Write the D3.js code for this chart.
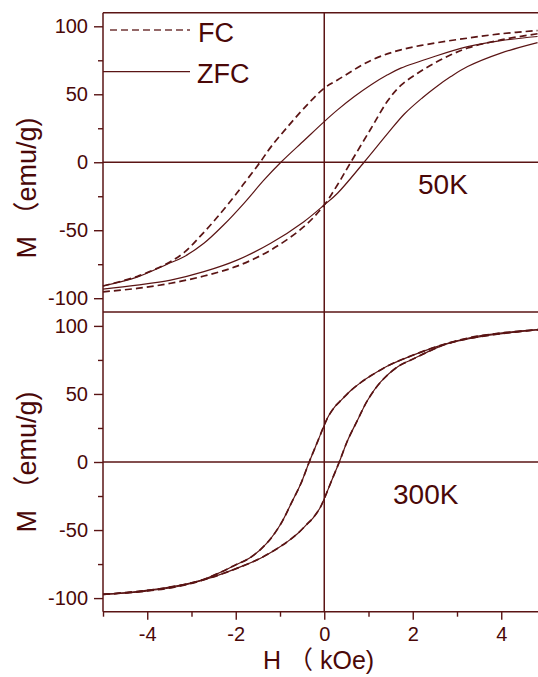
<!DOCTYPE html>
<html><head><meta charset="utf-8">
<script src="https://cdn.jsdelivr.net/npm/d3@7"></script>
<style>
html,body{margin:0;padding:0;background:#fff;}
svg{display:block;}
text{font-family:"Liberation Sans",Arial,"Noto Sans CJK SC",sans-serif;fill:#4a0808;}
</style></head>
<body>
<script>
// ---- data (H in kOe, M in emu/g) ----
const xTicks = [-4, -2, 0, 2, 4];
const xMinorTicks = [-5, -3, -1, 1, 3, 5];
const yTicks = [-100, -50, 0, 50, 100];
const yMinorTicks = [-75, -25, 25, 75];

// 50K, FC, field decreasing branch
const H50_FC_down = [-5, -4.23, -3.55, -3.17, -2.79, -2.42, -1.97, -1.81, -1.45, -1.2, -0.83, -0.45, 0, 0.3, 1.06, 1.73, 2.49, 3.24, 3.99, 4.82];
const M50_FC_down = [-91, -84, -74.4, -66.5, -54, -40.5, -22.5, -15.5, 0, 11.5, 26, 40, 54.5, 60.5, 75, 82.7, 87.6, 91.3, 94.5, 96.9];
// 50K, FC, field increasing branch
const H50_FC_up = [-5, -4.23, -3.47, -2.72, -1.97, -1.21, -0.46, 0, 0.3, 0.6, 1.06, 1.43, 1.73, 2.11, 2.49, 2.86, 3.24, 3.99, 4.82];
const M50_FC_up = [-95.3, -92.8, -89, -83.7, -76.4, -64.6, -47.4, -31.4, -16.5, 0, 25, 45, 56.5, 65.5, 72.9, 79, 84, 90, 94.5];
// 50K, ZFC, field decreasing branch
const H50_ZFC_down = [-5, -4.23, -3.55, -3.17, -2.72, -2.27, -1.81, -1.36, -0.98, -0.45, 0, 0.3, 0.68, 1.06, 1.43, 1.73, 2.49, 3.24, 3.99, 4.82];
const M50_ZFC_down = [-91, -84.5, -75, -69.5, -59.6, -46, -30, -13, 0, 16.2, 29.9, 38.5, 48.3, 57, 64.3, 69.2, 77.8, 85, 89.5, 92.5];
// 50K, ZFC, field increasing branch
const H50_ZFC_up = [-5, -4.23, -3.47, -2.72, -1.97, -1.21, -0.46, 0, 0.3, 0.9, 1.43, 1.81, 2.22, 2.49, 2.86, 3.24, 3.99, 4.82];
const M50_ZFC_up = [-93.3, -90.4, -86.7, -80.5, -72, -59.6, -43.7, -31.4, -22.8, 0, 21, 35.5, 47.5, 54.5, 63, 70.4, 80.3, 88];

// 300K (FC and ZFC coincide)
const H300_down = [-5, -4.2, -3.5, -2.79, -2.41, -2.03, -1.66, -1.28, -0.98, -0.75, -0.53, -0.34, -0.15, 0, 0.1, 0.25, 0.4, 0.6, 0.83, 1.06, 1.43, 1.81, 2.56, 3.31, 4.06, 4.86];
const M300_down = [-97.3, -95, -92, -87, -82, -76, -70, -59, -45.4, -30.6, -16, 0, 15, 27, 34, 41, 46, 52.5, 58.5, 63.5, 70.5, 76, 85, 91.5, 95, 97.3];
const H300_up = [-5, -4.06, -3.31, -2.56, -1.81, -1.43, -1.06, -0.83, -0.6, -0.4, -0.25, -0.1, 0, 0.15, 0.34, 0.53, 0.75, 0.98, 1.28, 1.66, 2.03, 2.41, 2.79, 3.5, 4.2, 4.86];
const M300_up = [-97.3, -95, -91.5, -85, -76, -70.5, -63.5, -58.5, -52.5, -46, -41, -34, -27, -15, 0, 16, 30.6, 45.4, 59, 70, 76, 82, 87, 92, 95, 97.3];

const legendLabels = ["FC", "ZFC"];
const tempLabels = ["50K", "300K"];

// ---- drawing ----
const W = 538, Hh = 677;
const LINE = "#5a1414";
const svg = d3.select("body").append("svg").attr("width", W).attr("height", Hh);

const x = d3.scaleLinear().domain([-5, 5]).range([103, 545.5]);
const yTop = d3.scaleLinear().domain([-110, 110]).range([311.8, 12.7]);
const yBot = d3.scaleLinear().domain([-110, 110]).range([611.7, 312.3]);

const zip = (hs, ms) => hs.map((h, i) => [h, ms[i]]);
const fmt = d => String(d);

function panel(y, label, labelX, labelY, yLabelCenter) {
  const g = svg.append("g");
  const ax = d3.axisLeft(y).tickValues(yTicks).tickSize(9).tickPadding(6).tickFormat(fmt);
  const ga = g.append("g").attr("transform", `translate(${x(-5)},0)`).call(ax);
  ga.select(".domain").remove();
  ga.selectAll("line").attr("stroke", LINE).attr("stroke-width", 1.4);
  ga.selectAll("text").style("font-size", "20px").attr("fill", "#4a0808")
    .style("font-family", '"Liberation Sans",Arial,sans-serif');
  const am = d3.axisLeft(y).tickValues(yMinorTicks).tickSize(5).tickFormat("");
  const gm = g.append("g").attr("transform", `translate(${x(-5)},0)`).call(am);
  gm.select(".domain").remove();
  gm.selectAll("line").attr("stroke", LINE).attr("stroke-width", 1.4);
  g.append("line").attr("x1", x(-5)).attr("x2", W).attr("y1", y(0)).attr("y2", y(0))
    .attr("stroke", LINE).attr("stroke-width", 1.5);
  g.append("text").attr("transform", `translate(36,${yLabelCenter}) rotate(-90)`)
    .attr("text-anchor", "middle").style("font-size", "27px").text("M （emu/g)");
  g.append("text").attr("x", labelX).attr("y", labelY).style("font-size", "28px").text(label);
}

panel(yTop, tempLabels[0], 418, 194, 188);
panel(yBot, tempLabels[1], 393, 504, 462);

// frame lines
svg.append("line").attr("x1", x(-5)).attr("x2", W).attr("y1", yTop.range()[1]).attr("y2", yTop.range()[1]).attr("stroke", LINE).attr("stroke-width", 1.5);
svg.append("line").attr("x1", x(-5)).attr("x2", W).attr("y1", 312).attr("y2", 312).attr("stroke", LINE).attr("stroke-width", 1.6);
svg.append("line").attr("x1", x(-5)).attr("x2", x(-5)).attr("y1", yTop.range()[1]).attr("y2", yBot.range()[0]).attr("stroke", LINE).attr("stroke-width", 1.5);
svg.append("line").attr("x1", x(0)).attr("x2", x(0)).attr("y1", yTop.range()[1]).attr("y2", yBot.range()[0]).attr("stroke", LINE).attr("stroke-width", 1.5);

// x axis
const xa = d3.axisBottom(x).tickValues(xTicks).tickSize(8).tickPadding(7).tickFormat(fmt);
const gx = svg.append("g").attr("transform", `translate(0,${yBot.range()[0]})`).call(xa);
gx.select(".domain").attr("stroke", LINE).attr("stroke-width", 1.5).attr("d", `M${x(-5)},0H${W}`);
gx.selectAll("line").attr("stroke", LINE).attr("stroke-width", 1.4);
gx.selectAll("text").style("font-size", "20px").attr("fill", "#4a0808")
  .style("font-family", '"Liberation Sans",Arial,sans-serif');
const xm = d3.axisBottom(x).tickValues(xMinorTicks).tickSize(5).tickFormat("");
const gxm = svg.append("g").attr("transform", `translate(0,${yBot.range()[0]})`).call(xm);
gxm.select(".domain").remove();
gxm.selectAll("line").attr("stroke", LINE).attr("stroke-width", 1.4);

svg.append("text").attr("x", 263).attr("y", 669).style("font-size", "25px").text("H （ kOe)");

// curves
function curve(y, hs, ms, dashed) {
  const line = d3.line().x(d => x(d[0])).y(d => y(d[1])).curve(d3.curveCatmullRom.alpha(0.5));
  svg.append("path").datum(zip(hs, ms)).attr("d", line)
    .attr("fill", "none").attr("stroke", LINE)
    .attr("stroke-width", dashed ? 1.7 : 1.2)
    .attr("stroke-dasharray", dashed ? "7,4" : null);
}
curve(yTop, H50_FC_down, M50_FC_down, true);
curve(yTop, H50_FC_up, M50_FC_up, true);
curve(yTop, H50_ZFC_down, M50_ZFC_down, false);
curve(yTop, H50_ZFC_up, M50_ZFC_up, false);
curve(yBot, H300_down, M300_down, false);
curve(yBot, H300_up, M300_up, false);
curve(yBot, H300_down, M300_down, true);
curve(yBot, H300_up, M300_up, true);

// legend
svg.append("line").attr("x1", 110).attr("x2", 190).attr("y1", 30).attr("y2", 30)
  .attr("stroke", LINE).attr("stroke-width", 1.3).attr("stroke-dasharray", "7,4").attr("opacity", 0.85);
svg.append("text").attr("x", 198).attr("y", 42).style("font-size", "27px").text(legendLabels[0]);
svg.append("line").attr("x1", 103).attr("x2", 190).attr("y1", 71.7).attr("y2", 71.7)
  .attr("stroke", LINE).attr("stroke-width", 1.2);
svg.append("text").attr("x", 197).attr("y", 83).style("font-size", "27px").text(legendLabels[1]);
</script>
</body></html>
